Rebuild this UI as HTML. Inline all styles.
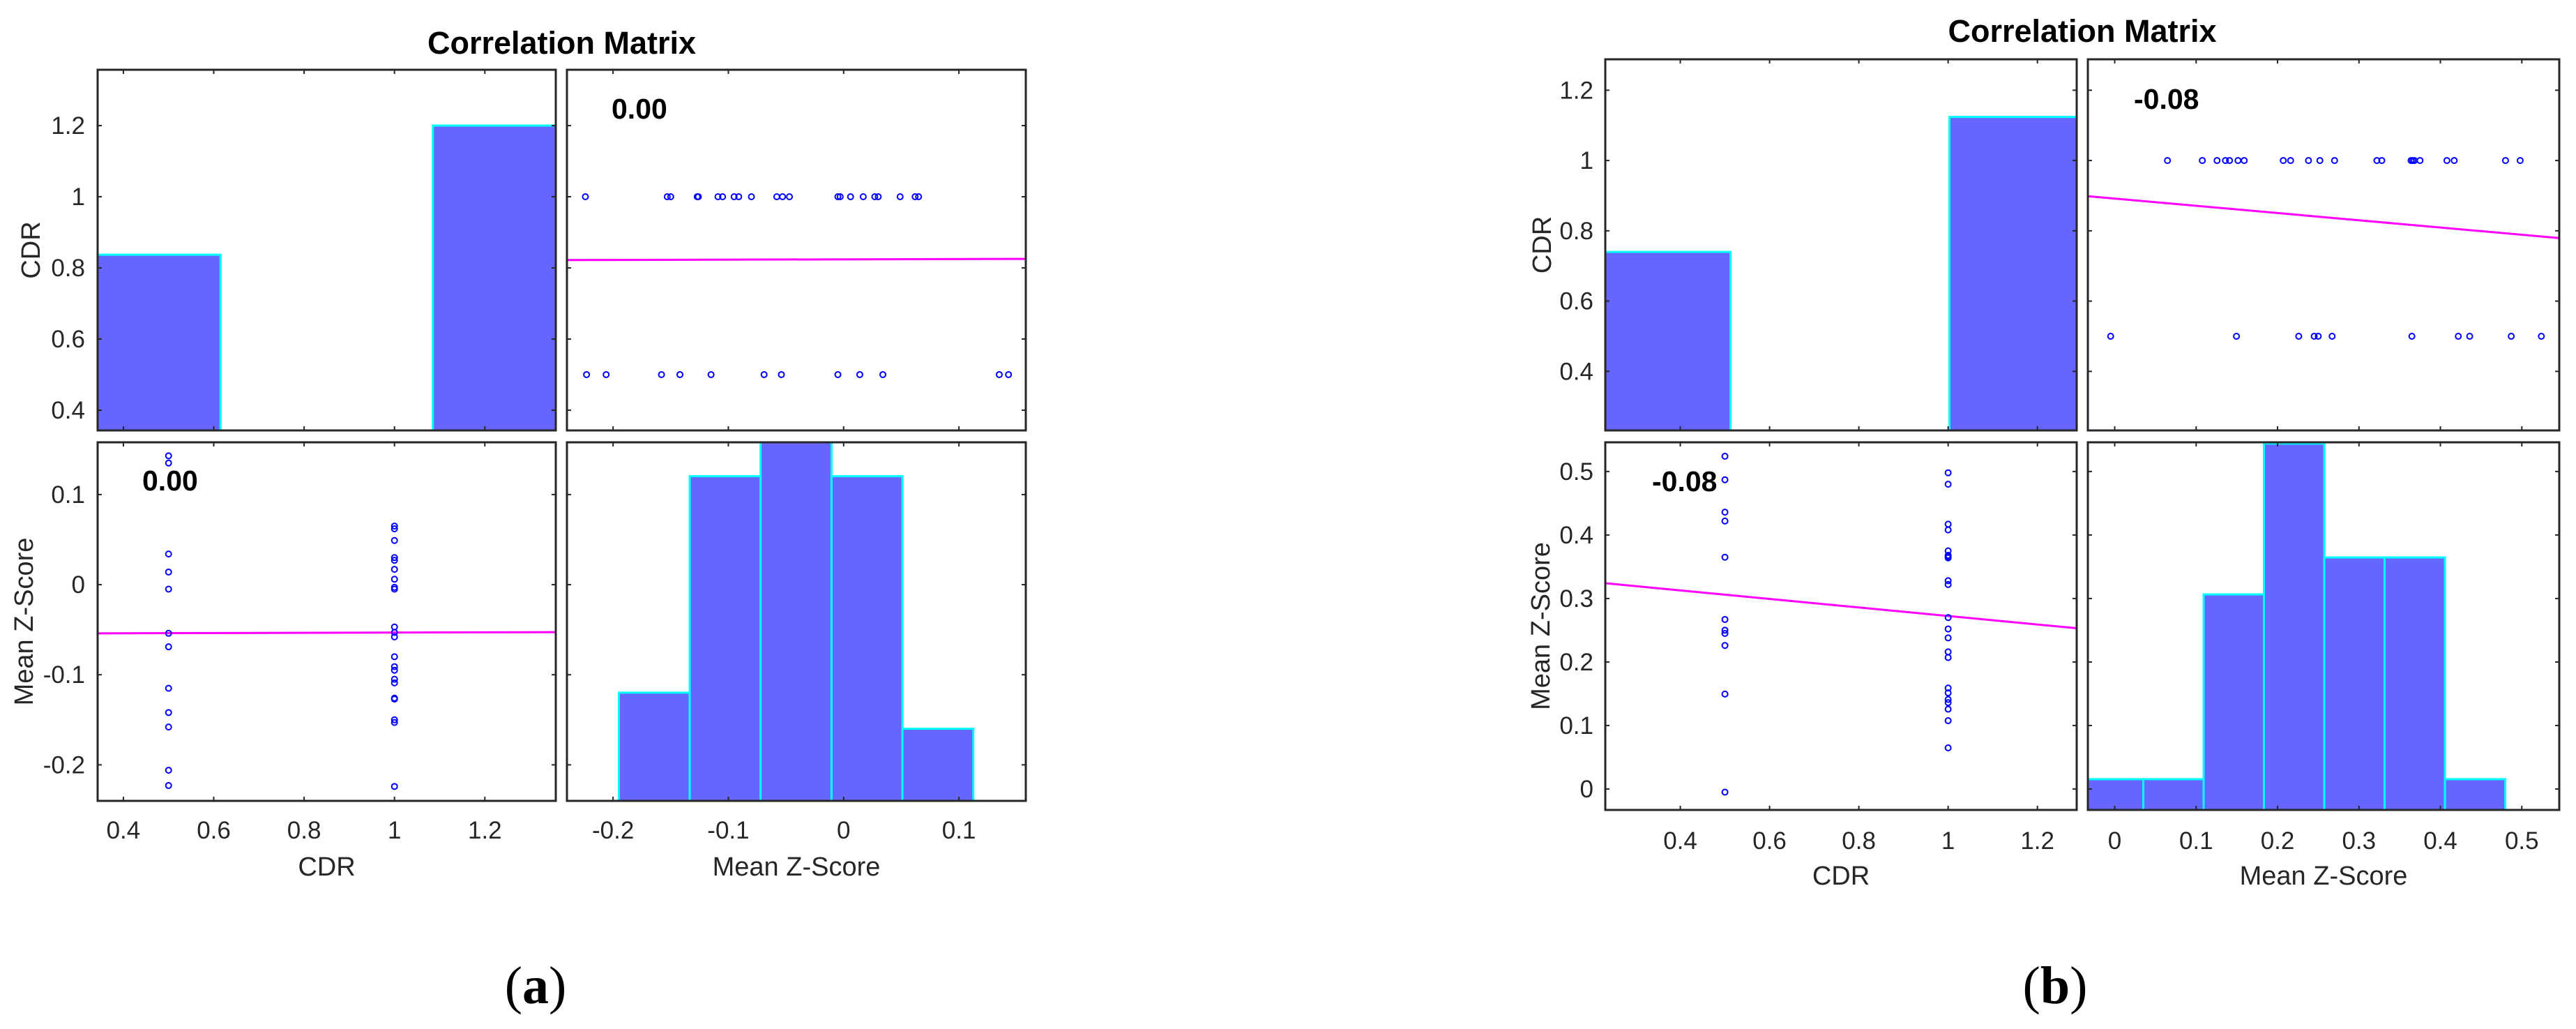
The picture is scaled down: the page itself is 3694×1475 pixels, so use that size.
<!DOCTYPE html>
<html><head><meta charset="utf-8">
<style>
html,body{margin:0;padding:0;background:#fff;}
svg{display:block;}
text{font-family:"Liberation Sans",Arial,sans-serif;}
text.cap{font-family:"Liberation Serif","Times New Roman",serif;}
</style></head>
<body>
<svg id="fig" width="3694" height="1475" viewBox="0 0 3694 1475" xmlns="http://www.w3.org/2000/svg"></svg>
<script>
// ---------- Panel (a) data ----------
const aZcdr05 = [0.143,0.135,0.034,0.014,-0.005,-0.054,-0.069,-0.115,-0.142,-0.158,-0.206,-0.223];
const aZcdr1 = [0.065,0.062,0.049,0.030,0.027,0.017,0.006,-0.003,-0.005,-0.047,-0.053,-0.058,-0.080,-0.091,-0.095,-0.105,-0.109,-0.126,-0.127,-0.150,-0.153,-0.224];
const aCdrBinEdges = [[0.343,0.615],[1.085,1.357]];
const aCdrBinHeights = [0.837,1.2];
const aZBinStart = -0.195;
const aZBinWidth = 0.0615;
const aZBinCounts = [3,9,11,9,2];
const aCorrLabel = "0.00";
// ---------- Panel (b) data ----------
const bZcdr05 = [-0.005,0.1495,0.226,0.245,0.250,0.267,0.365,0.422,0.436,0.487,0.524];
const bZcdr1 = [0.0648,0.1076,0.1257,0.136,0.141,0.1514,0.159,0.207,0.216,0.238,0.252,0.270,0.322,0.328,0.364,0.366,0.368,0.375,0.408,0.417,0.480,0.498];
const bCdrBinEdges = [[0.232,0.5125],[1.003,1.288]];
const bCdrBinHeights = [0.74,1.124];
const bZBinStart = -0.039;
const bZBinWidth = 0.0741;
const bZBinCounts = [1,1,7,11.9,8.2,8.2,1];
const bCorrLabel = "-0.08";
// ---------- tick labels ----------
const aCdrTicks = [0.4,0.6,0.8,1,1.2];
const aZTicks = [-0.2,-0.1,0,0.1];
const bCdrTicks = [0.4,0.6,0.8,1,1.2];
const bZTicks = [0,0.1,0.2,0.3,0.4,0.5];

const NS="http://www.w3.org/2000/svg";
const svg=document.getElementById('fig');
function mk(tag,attrs,parent){const e=document.createElementNS(NS,tag);for(const k in attrs)e.setAttribute(k,attrs[k]);(parent||svg).appendChild(e);return e;}
function fmt(v){return String(Math.round(v*10)/10);}
function lsq(xs,ys){const n=xs.length;let mx=0,my=0;for(let i=0;i<n;i++){mx+=xs[i];my+=ys[i];}mx/=n;my/=n;let sxy=0,sxx=0;for(let i=0;i<n;i++){sxy+=(xs[i]-mx)*(ys[i]-my);sxx+=(xs[i]-mx)**2;}const b=sxx?sxy/sxx:0;return [my-b*mx,b];}

function panel(P){
  const g=mk('g',{});
  
  
  const sx=(lim,x0,x1)=>v=>x0+(v-lim[0])/(lim[1]-lim[0])*(x1-x0);
  const sy=(lim,y0,y1)=>v=>y1-(v-lim[0])/(lim[1]-lim[0])*(y1-y0);
  const [c1,c2]=P.cols, [r1,r2]=P.rows;
  const xCdr=sx(P.cdrLim,c1[0],c1[1]), xZ=sx(P.zLim,c2[0],c2[1]);
  const yCdr=sy(P.cdrLim,r1[0],r1[1]), yZ=sy(P.zLim,r2[0],r2[1]);
  const allZ=P.z05.concat(P.z1), allC=P.z05.map(()=>0.5).concat(P.z1.map(()=>1));
  const clipId=P.name+'-clip';
  const defs=mk('defs',{},g);
  [[c1,r1],[c2,r1],[c1,r2],[c2,r2]].forEach((b,i)=>{const cp=mk('clipPath',{id:clipId+i},defs);mk('rect',{x:b[0][0],y:b[1][0],width:b[0][1]-b[0][0],height:b[1][1]-b[1][0]},cp);});
  const h1=mk('g',{'clip-path':`url(#${clipId}0)`},g);
  
  
  P.cdrEdges.forEach((ed,i)=>{const x0=xCdr(ed[0]),x1=xCdr(ed[1]),y=yCdr(P.cdrH[i]);
    const r=mk('rect',{x:x0,y:y,width:x1-x0,height:r1[1]-y+5,fill:'#6666ff',stroke:'#00ffff','stroke-width':3},h1);
    
    });
  const h2=mk('g',{'clip-path':`url(#${clipId}3)`},g);
  
  
  const unit=(r2[1]-r2[0])/P.histMax;
  P.zCounts.forEach((c,i)=>{const x0=xZ(P.zStart+i*P.zW),x1=xZ(P.zStart+(i+1)*P.zW),y=r2[1]-c*unit;
    const r=mk('rect',{x:x0,y:y,width:x1-x0,height:c*unit+5,fill:'#6666ff',stroke:'#00ffff','stroke-width':3},h2);
    
    });
  const s1=mk('g',{'clip-path':`url(#${clipId}1)`},g);
  
  
  const f1=lsq(allZ,allC);
  const l1=mk('line',{x1:c2[0],y1:yCdr(f1[0]+f1[1]*P.zLim[0]),x2:c2[1],y2:yCdr(f1[0]+f1[1]*P.zLim[1]),stroke:'#ff00ff','stroke-width':3},s1);
  
  
  allZ.forEach((z,i)=>{const c=mk('circle',{cx:xZ(z),cy:yCdr(allC[i]),r:4,fill:'none',stroke:'#0000ff','stroke-width':2},s1);
    
    });
  const s2=mk('g',{'clip-path':`url(#${clipId}2)`},g);
  
  
  const f2=lsq(allC,allZ);
  const l2=mk('line',{x1:c1[0],y1:yZ(f2[0]+f2[1]*P.cdrLim[0]),x2:c1[1],y2:yZ(f2[0]+f2[1]*P.cdrLim[1]),stroke:'#ff00ff','stroke-width':3},s2);
  
  
  allZ.forEach((z,i)=>{const c=mk('circle',{cx:xCdr(allC[i]),cy:yZ(z),r:4,fill:'none',stroke:'#0000ff','stroke-width':2},s2);
    
    });
  const boxes=[[c1,r1,xCdr,P.cdrTicks,yCdr,P.cdrTicks],[c2,r1,xZ,P.zTicks,yCdr,P.cdrTicks],[c1,r2,xCdr,P.cdrTicks,yZ,P.zTicks],[c2,r2,xZ,P.zTicks,yZ,P.zTicks]];
  boxes.forEach(b=>{const [cx,ry,fx,tx,fy,ty]=b;
    const bx=mk('rect',{x:cx[0],y:ry[0],width:cx[1]-cx[0],height:ry[1]-ry[0],fill:'none',stroke:'#262626','stroke-width':3},g);
    
    
    tx.forEach(t=>{const x=fx(t);mk('line',{x1:x,y1:ry[0],x2:x,y2:ry[0]+6,stroke:'#262626','stroke-width':2},g);mk('line',{x1:x,y1:ry[1],x2:x,y2:ry[1]-6,stroke:'#262626','stroke-width':2},g);});
    ty.forEach(t=>{const y=fy(t);mk('line',{x1:cx[0],y1:y,x2:cx[0]+6,y2:y,stroke:'#262626','stroke-width':2},g);mk('line',{x1:cx[1],y1:y,x2:cx[1]-6,y2:y,stroke:'#262626','stroke-width':2},g);});
  });
  function lab(x,y,s,anchor,size,name,extra){const t=mk('text',Object.assign({x:x,y:y,'text-anchor':anchor,'font-size':size,fill:'#262626'},extra||{}),g);t.textContent=s;return t;}
  P.cdrTicks.forEach(t=>lab(P.yTickRight,yCdr(t)+12,fmt(t),'end',35,'y-tick-label'));
  P.zTicks.forEach(t=>lab(P.yTickRight,yZ(t)+12,fmt(t),'end',35,'y-tick-label'));
  P.cdrTicks.forEach(t=>lab(xCdr(t),P.xTickBase,fmt(t),'middle',35,'x-tick-label'));
  P.zTicks.forEach(t=>lab(xZ(t),P.xTickBase,fmt(t),'middle',35,'x-tick-label'));
  lab((c1[0]+c1[1])/2,P.xLabBase,'CDR','middle',38,'x-axis-title-cdr');
  lab((c2[0]+c2[1])/2,P.xLabBase,'Mean Z-Score','middle',38,'x-axis-title-zscore');
  const yc1=(r1[0]+r1[1])/2, yc2=(r2[0]+r2[1])/2;
  lab(P.yLabX1,yc1,'CDR','middle',38,'y-axis-title-cdr',{transform:`rotate(-90 ${P.yLabX1} ${yc1})`});
  lab(P.yLabX2,yc2,'Mean Z-Score','middle',38,'y-axis-title-zscore',{transform:`rotate(-90 ${P.yLabX2} ${yc2})`});
  lab(P.corr1[0],P.corr1[1],P.corr,'start',41,'correlation-value',{'font-weight':'bold',fill:'#000'});
  lab(P.corr2[0],P.corr2[1],P.corr,'start',41,'correlation-value',{'font-weight':'bold',fill:'#000'});
  lab((c1[0]+c2[1])/2,P.titleBase,'Correlation Matrix','middle',45,'chart-title',{'font-weight':'bold',fill:'#000'});
  const cap=mk('text',{x:P.capX,y:1438,'text-anchor':'middle','font-size':76,fill:'#000','class':'cap'},g);
  
  
  const t1=mk('tspan',{},cap);t1.textContent='(';
  const t2=mk('tspan',{'font-weight':'bold'},cap);t2.textContent=P.capLetter;
  const t3=mk('tspan',{},cap);t3.textContent=')';
}

panel({name:'panel-a',cols:[[140,797],[813,1471]],rows:[[100,617],[634,1148]],
  cdrLim:[0.343,1.357],zLim:[-0.240,0.158],z05:aZcdr05,z1:aZcdr1,
  cdrEdges:aCdrBinEdges,cdrH:aCdrBinHeights,zStart:aZBinStart,zW:aZBinWidth,zCounts:aZBinCounts,histMax:9.94,
  cdrTicks:aCdrTicks,zTicks:aZTicks,yTickRight:122,xTickBase:1202,xLabBase:1255,yLabX1:57,yLabX2:47,
  corr:aCorrLabel,corr1:[877,170],corr2:[204,703],titleBase:77,capX:768,capLetter:'a'});
panel({name:'panel-b',cols:[[2302,2978],[2994,3670]],rows:[[85,617],[634,1161]],
  cdrLim:[0.232,1.288],zLim:[-0.033,0.546],z05:bZcdr05,z1:bZcdr1,
  cdrEdges:bCdrBinEdges,cdrH:bCdrBinHeights,zStart:bZBinStart,zW:bZBinWidth,zCounts:bZBinCounts,histMax:11.94,
  cdrTicks:bCdrTicks,zTicks:bZTicks,yTickRight:2285,xTickBase:1217,xLabBase:1268,yLabX1:2224,yLabX2:2222,
  corr:bCorrLabel,corr1:[3060,156],corr2:[2369,704],titleBase:60,capX:2947,capLetter:'b'});
</script>
</body></html>
